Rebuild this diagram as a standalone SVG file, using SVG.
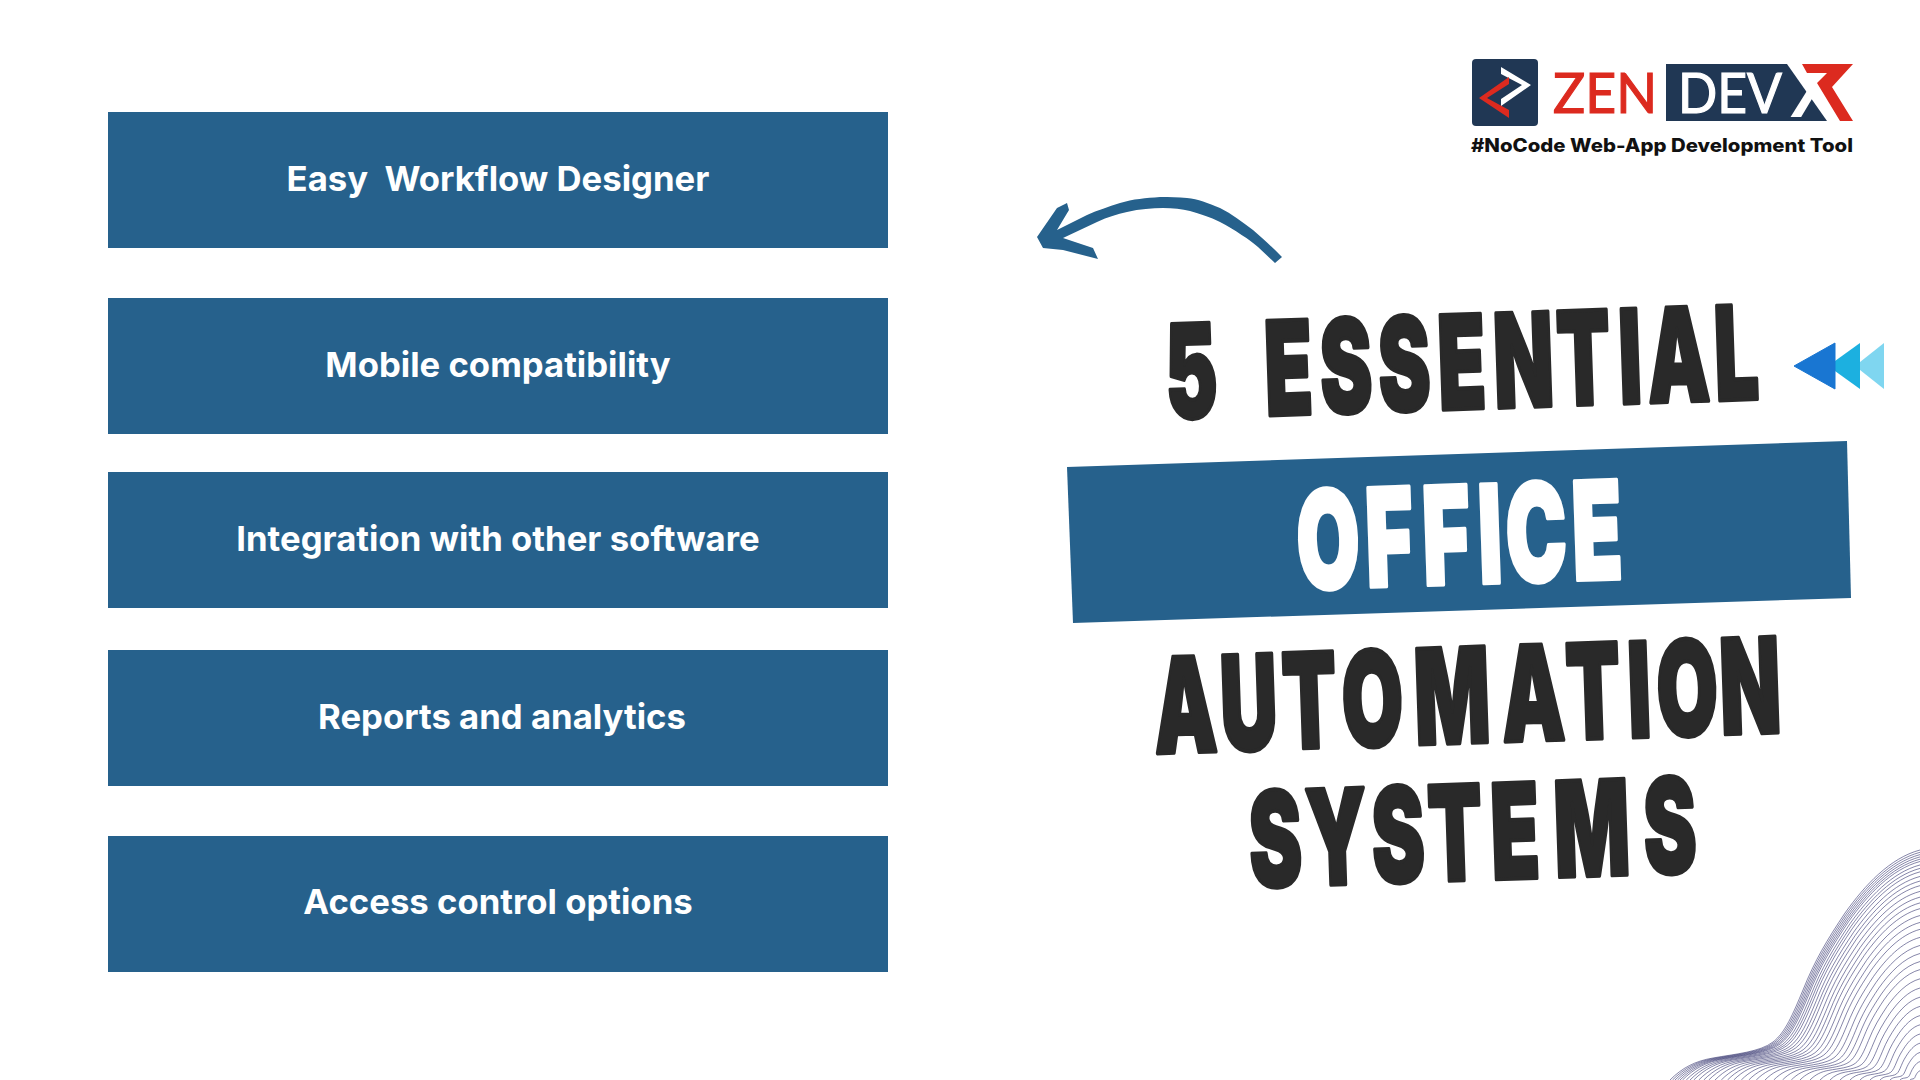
<svg xmlns="http://www.w3.org/2000/svg" width="1920" height="1080" viewBox="0 0 1920 1080">
<style>
.box{fill:#26618c}
.lbl{font-family:Inter,"Liberation Sans",sans-serif;font-weight:700;font-size:34.7px;fill:#fff;text-anchor:middle}
.hd{font-family:Inter,"Liberation Sans",sans-serif;font-weight:900;font-size:130px;text-anchor:middle;stroke-width:4px;stroke-linejoin:round}
.dk{fill:#292929;stroke:#292929}
.wt{fill:#fff;stroke:#fff}
.wave{fill:none;stroke:#34346f;stroke-width:.6;vector-effect:non-scaling-stroke}
</style>
<defs><path id="w" class="wave" d="M-250 0C-238 -12 -225 -19 -207 -22C-185 -26 -160 -28 -147 -38C-135 -47 -127 -66 -117 -90C-105 -120 -93 -140 -75 -167C-55 -195 -30 -222 0 -230"/></defs>
<rect width="1920" height="1080" fill="#fff"/>
<g id="item-1"><rect class="box" x="108" y="112" width="780" height="136"/><text class="lbl" x="498" y="191" xml:space="preserve">Easy  Workflow Designer</text></g>
<g id="item-2"><rect class="box" x="108" y="298" width="780" height="136"/><text class="lbl" x="498" y="377">Mobile compatibility</text></g>
<g id="item-3"><rect class="box" x="108" y="472" width="780" height="136"/><text class="lbl" x="498" y="551">Integration with other software</text></g>
<g id="item-4"><rect class="box" x="108" y="650" width="780" height="136"/><text class="lbl" x="502" y="729">Reports and analytics</text></g>
<g id="item-5"><rect class="box" x="108" y="836" width="780" height="136"/><text class="lbl" x="498" y="914">Access control options</text></g>
<g id="connectors">
<path id="arrow" fill="#26618c" d="M1282 257C1270 245 1260 236 1253 230C1242 222 1232 214 1220 208C1208 203 1198 199 1187 198C1178 197 1170 197 1160 197C1146 198 1133 199 1120 203C1108 207 1098 210 1087 215L1057 230L1069 210L1067 203L1057 208L1037 237L1043 248L1063 250L1098 259L1093 248L1063 238L1097 222C1108 217 1117 214 1127 212C1140 209 1152 208 1163 208C1173 208 1182 209 1190 211C1200 214 1210 217 1220 222C1235 230 1250 240 1258 247L1275 263Z"/>
</g>
<g id="chevrons">
<path fill="#7fd6f0" d="M1884 343V389L1855 366Z"/>
<path fill="#1cb0e0" d="M1860 343V389L1828 366Z"/>
<path fill="#1976d2" d="M1835 343V389L1794 366Z" stroke="#1976d2" stroke-width="1" stroke-linejoin="round"/>
</g>
<g id="headline">
<text class="hd dk" transform="translate(1461 361) rotate(-1.9) scale(.6 1)" x="-450 -370 -288 -192 -95 1 104 204 282 362 459" y="48">5 ESSENTIAL</text>
<polygon id="banner" class="box" points="1067,467 1847,441 1851,598 1073,623"/>
<text class="hd wt" transform="translate(1460 534) rotate(-1.9) scale(.6 1)" x="-220 -118 -23 50 127 228" y="50" style="font-size:136px">OFFICE</text>
<text class="hd dk" transform="translate(1467 694) rotate(-1.9) scale(.6 1)" x="-470 -364 -263 -158 -25 110 210 287 367 472" y="49" style="font-size:132px">AUTOMATION</text>
<text class="hd dk" transform="translate(1473 831) rotate(-1.9) scale(.6 1)" x="-330 -228 -125 -30 70 198 328" y="49" style="font-size:132px">SYSTEMS</text>
</g>
<g id="logo">
<rect x="1472" y="59" width="66" height="67" rx="4" fill="#203754"/>
<path fill="#fff" d="M1501 67L1531 85L1501 106V99L1522 85L1501 74Z"/>
<path fill="#dc2a1f" d="M1509 77V84L1487 98L1509 110V118L1479 98Z"/>
<polygon points="1666,64 1787,64 1827,121 1666,121" fill="#203754"/>
<text x="1553" y="113" font-family="Lato,'Liberation Sans',sans-serif" font-size="56" fill="#dc2a1f" stroke="#dc2a1f" stroke-width="1.2" textLength="104" lengthAdjust="spacingAndGlyphs">ZEN</text>
<text x="1678" y="113" font-family="Lato,'Liberation Sans',sans-serif" font-size="56" fill="#fff" stroke="#fff" stroke-width="1.2" textLength="104" lengthAdjust="spacingAndGlyphs">DEV</text>
<text x="1790" y="117" font-family="'Liberation Sans',sans-serif" font-weight="700" font-size="72" fill="#fff" textLength="46" lengthAdjust="spacingAndGlyphs">X</text>
<path fill="#dc2a1f" d="M1802 64H1853L1832 87L1853 121H1840L1817 83L1827 73H1807Z"/>
<text x="1471" y="152" font-family="Inter,'Liberation Sans',sans-serif" font-weight="800" font-size="18.5" fill="#111" textLength="382" lengthAdjust="spacingAndGlyphs">#NoCode Web-App Development Tool</text>
</g>
<g id="wave">
<use href="#w" transform="translate(1920 1080)"/>
<use href="#w" transform="translate(1920 1080) scale(.99)"/>
<use href="#w" transform="translate(1920 1080) scale(.98)"/>
<use href="#w" transform="translate(1920 1080) scale(.97)"/>
<use href="#w" transform="translate(1920 1080) scale(.96)"/>
<use href="#w" transform="translate(1920 1080) scale(.95)"/>
<use href="#w" transform="translate(1920 1080) scale(.935)"/>
<use href="#w" transform="translate(1920 1080) scale(.92)"/>
<use href="#w" transform="translate(1920 1080) scale(.905)"/>
<use href="#w" transform="translate(1920 1080) scale(.885)"/>
<use href="#w" transform="translate(1920 1080) scale(.865)"/>
<use href="#w" transform="translate(1920 1080) scale(.845)"/>
<use href="#w" transform="translate(1920 1080) scale(.82)"/>
<use href="#w" transform="translate(1920 1080) scale(.795)"/>
<use href="#w" transform="translate(1920 1080) scale(.77)"/>
<use href="#w" transform="translate(1920 1080) scale(.745)"/>
<use href="#w" transform="translate(1920 1080) scale(.715)"/>
<use href="#w" transform="translate(1920 1080) scale(.685)"/>
<use href="#w" transform="translate(1920 1080) scale(.655)"/>
<use href="#w" transform="translate(1920 1080) scale(.62)"/>
<use href="#w" transform="translate(1920 1080) scale(.585)"/>
<use href="#w" transform="translate(1920 1080) scale(.55)"/>
<use href="#w" transform="translate(1920 1080) scale(.515)"/>
<use href="#w" transform="translate(1920 1080) scale(.48)"/>
<use href="#w" transform="translate(1920 1080) scale(.44)"/>
<use href="#w" transform="translate(1920 1080) scale(.40)"/>
<use href="#w" transform="translate(1920 1080) scale(.36)"/>
<use href="#w" transform="translate(1920 1080) scale(.32)"/>
<use href="#w" transform="translate(1920 1080) scale(.28)"/>
<use href="#w" transform="translate(1920 1080) scale(.24)"/>
<use href="#w" transform="translate(1920 1080) scale(.20)"/>
<use href="#w" transform="translate(1920 1080) scale(.16)"/>
<use href="#w" transform="translate(1920 1080) scale(.12)"/>
<use href="#w" transform="translate(1920 1080) scale(.08)"/>
<use href="#w" transform="translate(1920 1080) scale(.04)"/>
</g>
</svg>
